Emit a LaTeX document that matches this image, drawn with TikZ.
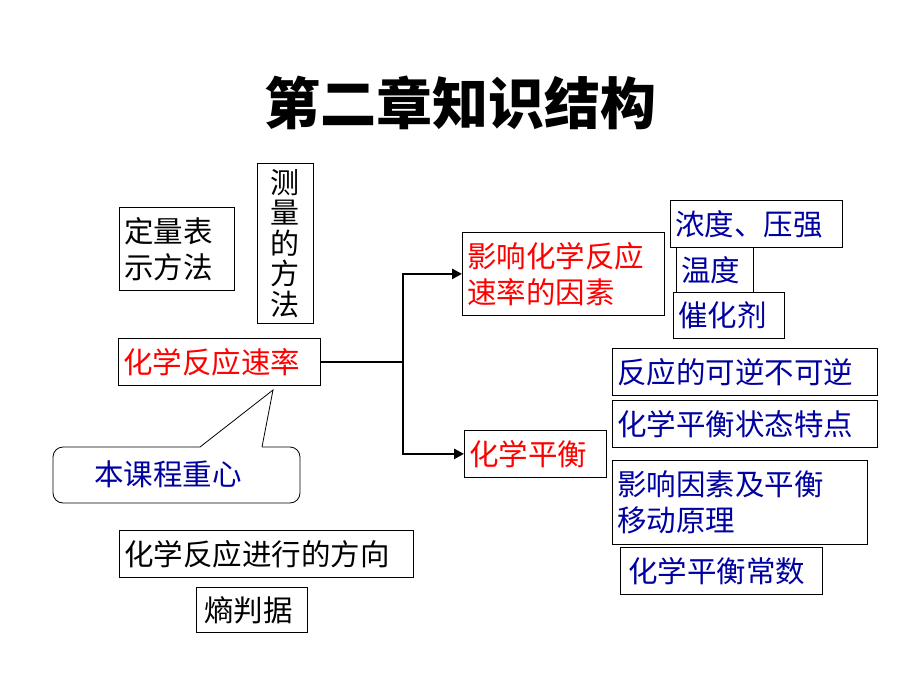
\documentclass[tikz,border=0pt]{standalone}
\usepackage{fontspec}
\newfontfamily\cjk{Noto Sans CJK SC}
\usetikzlibrary{arrows.meta}
\begin{document}
\begin{tikzpicture}[x=1pt,y=-1pt,
  box/.style={draw, line width=0.8pt, anchor=north west, inner xsep=5pt, inner ysep=0pt,
    align=left, font=\cjk\fontsize{29.5}{36}\selectfont},
  red/.style={text={rgb,255:red,255;green,0;blue,0}},
  blu/.style={text={rgb,255:red,0;green,0;blue,160}},
  conn/.style={line width=2.5pt},
  arr/.style={line width=2.5pt,-{Triangle[length=10pt,width=10pt]}}]
\useasboundingbox (0,0) rectangle (920,690);
\node[font=\cjk\bfseries\fontsize{56}{56}\selectfont] (title) at (460,103) {第二章知识结构};
\node[box, minimum width=115, minimum height=83, text width=105] (dl) at (119,207) {定量表\\示方法};
\node[draw, line width=0.8pt, anchor=north west, minimum width=56, minimum height=160, align=center,
  font=\cjk\fontsize{29}{30.5}\selectfont, inner sep=0] (cl) at (257,163) {测\\量\\的\\方\\法};
\node[box, red, minimum width=202, minimum height=47, text width=192] (sl) at (118,338) {化学反应速率};
\draw[line width=0.8pt, rounded corners=10pt] (200,447) -- (53,447) -- (53,503) -- (300,503) -- (300,447) -- (262,447);
\draw[line width=0.8pt] (200,447) -- (273,390) -- (262,447);
\node[blu, font=\cjk\fontsize{29.5}{30}\selectfont] (zx) at (168,474) {本课程重心};
\node[box, red, minimum width=202, minimum height=83, text width=192] (yx) at (462,232) {影响化学反应\\速率的因素};
\node[box, blu, minimum width=172, minimum height=47, text width=162] (a1) at (670,200) {浓度、压强};
\node[box, blu, minimum width=77, minimum height=45, text width=67] (a2) at (676,247) {温度};
\node[box, blu, minimum width=111, minimum height=46, text width=101] (a3) at (673,292) {催化剂};
\node[box, red, minimum width=142, minimum height=47, text width=132] (ph) at (464,430) {化学平衡};
\node[box, blu, minimum width=265, minimum height=47, text width=255] (b1) at (612,348) {反应的可逆不可逆};
\node[box, blu, minimum width=265, minimum height=47, text width=255] (b2) at (612,400) {化学平衡状态特点};
\node[box, blu, minimum width=255, minimum height=84, text width=245] (b3) at (612,460) {影响因素及平衡\\移动原理};
\node[box, blu, minimum width=202, minimum height=47, text width=192] (b4) at (620,547) {\hspace*{3pt}化学平衡常数};
\node[box, minimum width=294, minimum height=47, text width=284] (fx) at (119,530) {化学反应进行的方向};
\node[box, minimum width=111, minimum height=45, text width=101] (sp) at (196,587) {\hspace*{3pt}熵判据};
\draw[conn] (sl.east) -- ++(82,0) coordinate (j);
\draw[arr] (j) |- (yx.west);
\draw[arr] (j) |- (ph.west);
\end{tikzpicture}
\end{document}
